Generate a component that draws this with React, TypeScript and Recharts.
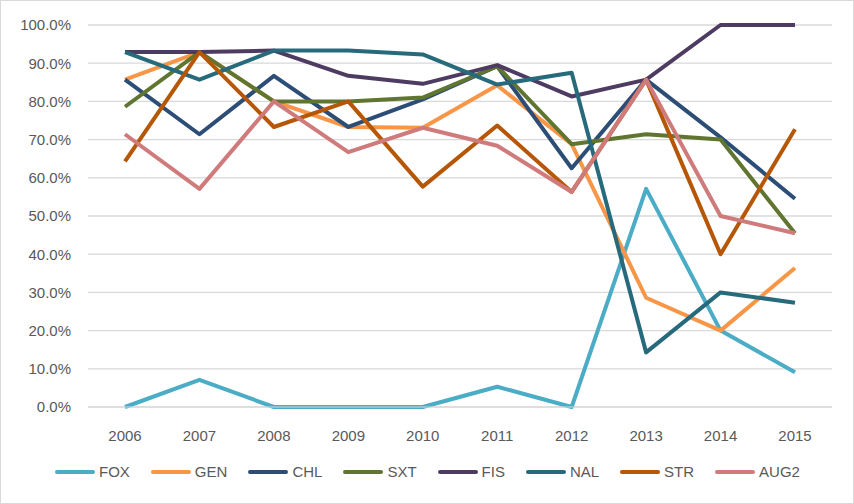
import React from 'react';
import { LineChart, Line, XAxis, YAxis, CartesianGrid, Legend } from 'recharts';

const years = ['2006', '2007', '2008', '2009', '2010', '2011', '2012', '2013', '2014', '2015'];

const fox = [0, 7.1, 0, 0, 0, 5.3, 0, 57.1, 20, 9.1];
const gen = [85.7, 92.9, 80, 73.3, 73.1, 84.2, 68.8, 28.6, 20, 36.4];
const chl = [85.7, 71.4, 86.7, 73.3, 80.5, 89.2, 62.5, 85.7, 70.6, 54.5];
const sxt = [78.6, 92.9, 80, 80, 81, 89.2, 68.8, 71.4, 70, 45.5];
const fis = [92.9, 92.9, 93.3, 86.7, 84.6, 89.5, 81.3, 85.7, 100, 100];
const nal = [92.9, 85.7, 93.3, 93.3, 92.3, 84.4, 87.5, 14.3, 30, 27.3];
const str = [64.3, 92.9, 73.3, 80, 57.7, 73.7, 56.3, 85.7, 40, 72.7];
const aug2 = [71.4, 57.1, 80, 66.7, 73.1, 68.4, 56.3, 85.7, 50, 45.5];

const yTicks = [0, 10, 20, 30, 40, 50, 60, 70, 80, 90, 100];

const series = [
    { key: 'FOX', values: fox, color: '#4BACC6' },
    { key: 'GEN', values: gen, color: '#F79646' },
    { key: 'CHL', values: chl, color: '#2C4D75' },
    { key: 'SXT', values: sxt, color: '#5F7530' },
    { key: 'FIS', values: fis, color: '#4D3B62' },
    { key: 'NAL', values: nal, color: '#276A7C' },
    { key: 'STR', values: str, color: '#B65708' },
    { key: 'AUG2', values: aug2, color: '#D07B7B' },
];

const data = years.map((year, i) => {
    const row: Record<string, string | number> = { year };
    series.forEach((s) => {
        row[s.key] = s.values[i];
    });
    return row;
});

const FONT = '"Liberation Sans", Arial, sans-serif';

function LegendContent() {
    return (
        <div style={{ display: 'flex', justifyContent: 'center', alignItems: 'center', gap: 20, fontFamily: FONT }}>
            {series.map((s) => (
                <div key={s.key} style={{ display: 'flex', alignItems: 'center', gap: 3 }}>
                    <svg width={42} height={8}>
                        <line x1={3} y1={4} x2={39} y2={4} stroke={s.color} strokeWidth={4} strokeLinecap="round" />
                    </svg>
                    <span style={{ fontSize: 15, color: '#595959' }}>{s.key}</span>
                </div>
            ))}
        </div>
    );
}

export default function App() {
    return (
        <div
            style={{
                position: 'absolute',
                left: 0,
                top: 0,
                width: 852,
                height: 502,
                border: '1px solid #d9d9d9',
                background: '#fff',
            }}
        >
            <LineChart
                width={852}
                height={502}
                data={data}
                margin={{ top: 24, right: 21, left: 0, bottom: 0 }}
            >
                <CartesianGrid vertical={false} stroke="#d9d9d9" strokeWidth={1.3} />
                <XAxis
                    dataKey="year"
                    padding={{ left: 37, right: 37 }}
                    axisLine={{ stroke: '#d9d9d9' }}
                    tickLine={false}
                    tickMargin={17}
                    height={79}
                    tick={{ fill: '#595959', fontSize: 15, fontFamily: FONT }}
                />
                <YAxis
                    domain={[0, 100]}
                    ticks={yTicks}
                    width={87}
                    axisLine={false}
                    tickLine={false}
                    tickMargin={11}
                    tickFormatter={(v: number) => `${v.toFixed(1)}%`}
                    tick={{ fill: '#595959', fontSize: 15, fontFamily: FONT }}
                />
                <Legend
                    content={<LegendContent />}
                    wrapperStyle={{ left: 0, width: 852, top: 462 }}
                />
                {series.map((s) => (
                    <Line
                        key={s.key}
                        type="linear"
                        dataKey={s.key}
                        stroke={s.color}
                        strokeWidth={4}
                        strokeLinejoin="round"
                        dot={false}
                        activeDot={false}
                        isAnimationActive={false}
                    />
                ))}
            </LineChart>
        </div>
    );
}
